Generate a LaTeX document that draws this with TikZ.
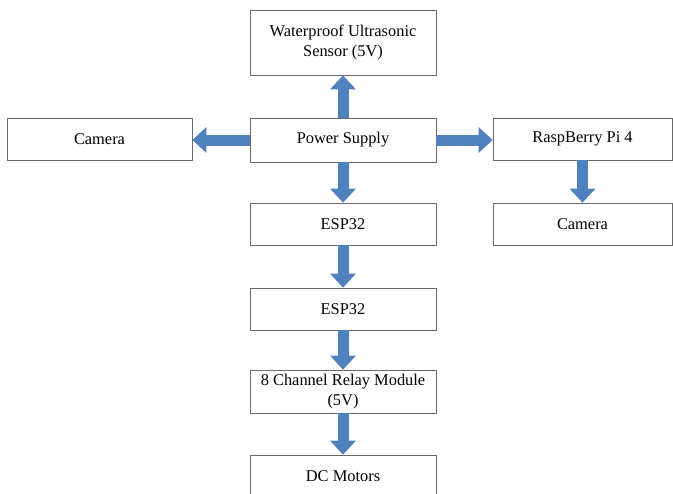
\documentclass[tikz,border=0pt]{standalone}
\usepackage{fontspec}
\setmainfont{Liberation Serif}
\usepackage{xcolor}
\usetikzlibrary{arrows.meta}
\definecolor{arrowblue}{RGB}{79, 129, 189}
\definecolor{boxgray}{RGB}{105, 105, 105}

\begin{document}
\begin{tikzpicture}[x=0.03cm, y=-0.03cm,
		block/.style={draw=boxgray, line width=0.6pt, fill=white, inner sep=0pt, align=center,
			minimum width=5.58cm, minimum height=1.26cm, font=\fontsize{14}{17.5}\selectfont},
		flow/.style={arrowblue, line width=0.33cm, -{Triangle[length=0.42cm, width=0.75cm]}}]
			
			\useasboundingbox (0, 0) rectangle (673, 493);
			\clip (0, 0) rectangle (673, 493);
			
			% BLOC CENTRAL : POWER SUPPLY
			\node[block, minimum height=1.32cm] (power) at (343, 140) {Power Supply};
			
			% CAPTEUR
			\node[block, minimum height=1.95cm] (sensor) at (343, 42.5) {Waterproof Ultrasonic\\Sensor (5V)};
			
			% CAMERAS ET RASPBERRY
			\node[block, minimum width=5.55cm] (camleft) at (99.5, 139) {Camera};
			\node[block, minimum width=5.37cm] (rpi) at (582.5, 139) {RaspBerry Pi 4};
			\node[block, minimum width=5.37cm] (camright) at (582.5, 224) {Camera};
			
			% CHAINE MOTEURS
			\node[block] (espa) at (343, 224) {ESP32};
			\node[block] (espb) at (343, 309) {ESP32};
			\node[block, minimum height=1.29cm] (relay) at (343, 391.5) {8 Channel Relay Module\\(5V)};
			\node[block] (motors) at (343, 476) {DC Motors};
			
			% FLECHES
			\draw[flow] (power.north) -- (sensor.south);
			\draw[flow] (power.west) -- (power.west -| camleft.east);
			\draw[flow] (power.east) -- (power.east -| rpi.west);
			\draw[flow] (rpi.south) -- (camright.north);
			\draw[flow] (power.south) -- (espa.north);
			\draw[flow] (espa.south) -- (espb.north);
			\draw[flow] (espb.south) -- (relay.north);
			\draw[flow] (relay.south) -- (motors.north);
			
		\end{tikzpicture}
\end{document}
